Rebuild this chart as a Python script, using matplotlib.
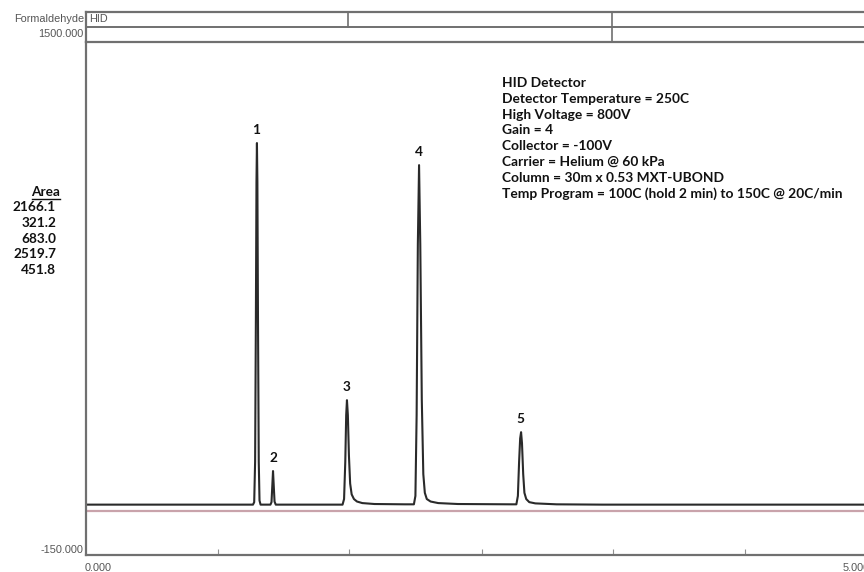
import matplotlib
matplotlib.use("Agg")
import matplotlib.pyplot as plt

# ---------------------------------------------------
# DATA
# ---------------------------------------------------

trace_time = [0.01, 1.100, 1.108, 1.114, 1.119, 1.123, 1.126, 1.129, 1.133, 1.138, 1.143, 1.150,
              1.215, 1.222, 1.227, 1.232, 1.237, 1.242, 1.250,
              1.690, 1.700, 1.708, 1.714, 1.719, 1.725, 1.732, 1.740, 1.750, 1.765, 1.785, 1.820,
              1.900, 2.100,
              2.160, 2.170, 2.178, 2.186, 2.194, 2.202, 2.212, 2.222, 2.232, 2.245, 2.270, 2.320,
              2.450, 2.800,
              2.835, 2.845, 2.853, 2.860, 2.866, 2.872, 2.880, 2.888, 2.900, 2.920, 2.960, 3.100,
              3.400, 5.200]
trace_signal = [12, 12, 20, 150, 600, 1050, 1175, 1050, 600, 150, 25, 12,
                12, 20, 70, 120, 70, 22, 12,
                12, 30, 150, 300, 348, 300, 170, 80, 45, 30, 22, 17,
                14, 13,
                13, 40, 300, 850, 1104, 850, 350, 110, 50, 30, 22, 17,
                14, 13,
                13, 40, 150, 225, 245, 210, 110, 50, 30, 20, 16, 13,
                12, 12]

ref_time = [0.0, 5.2]
ref_signal = [-8, -8]

peak_ids = ["1", "2", "3", "4", "5"]
peak_times = [1.120, 1.232, 1.719, 2.190, 2.860]
peak_tops = [1175, 120, 348, 1104, 245]

areas = ["2166.1", "321.2", "683.0", "2519.7", "451.8"]

tick_times = [0.87, 1.73, 2.61, 3.47, 4.34]

method_lines = [
    "HID Detector",
    "Detector Temperature = 250C",
    "High Voltage = 800V",
    "Gain = 4",
    "Collector = -100V",
    "Carrier = Helium @ 60 kPa",
    "Column = 30m x 0.53 MXT-UBOND",
    "Temp Program = 100C (hold 2 min) to 150C @ 20C/min",
]

# ---------------------------------------------------
# FIGURE
# ---------------------------------------------------

W, H = 864, 572
fig = plt.figure(figsize=(W / 100, H / 100), dpi=100)

def fx(px):
    return px / W

def fy(py):
    return 1 - py / H

ax = fig.add_axes([fx(86), fy(555), 1 - fx(86), fy(42) - fy(555)])
ax.plot(trace_time, trace_signal, color="#2a2a2a", lw=1.5)
ax.plot(ref_time, ref_signal, color="#c9a3ab", lw=1.6)
ax.set_xlim(0, 5.125)
ax.set_ylim(-150, 1500)

for s in ["left", "bottom", "top"]:
    ax.spines[s].set_color("#707070")
    ax.spines[s].set_linewidth(1.6)
ax.spines["right"].set_visible(False)
ax.set_yticks([])
ax.set_xticks(tick_times)
ax.set_xticklabels([])
ax.tick_params(axis="x", direction="in", length=4, color="#909090")

txt_font = dict(family="Lato", weight="bold", color="#111111")

# peak numbers
for pid, t, top in zip(peak_ids, peak_times, peak_tops):
    ax.annotate(pid, (t, top), xytext=(0, 5), textcoords="offset points",
                ha="center", va="bottom", fontsize=9.8, **txt_font)

# method block
for i, line in enumerate(method_lines):
    fig.text(fx(502), fy(83 + i * 15.8), line, ha="left", va="center",
             fontsize=9.9, **txt_font)

# area column
fig.text(fx(60), fy(192), "Area", ha="right", va="center", fontsize=9.8, **txt_font)
fig.add_artist(plt.Line2D([fx(32), fx(60)], [fy(198.5), fy(198.5)], color="#111111", lw=1))
for i, a in enumerate(areas):
    fig.text(fx(56), fy(207 + i * 15.8), a, ha="right", va="center",
             fontsize=9.8, **txt_font)

# axis labels (small gray instrument text)
small = dict(fontsize=7.8, color="#555555", family=["Liberation Sans Narrow", "Liberation Sans"])
fig.text(fx(83), fy(550), "-150.000", ha="right", va="center", **small)
fig.text(fx(83), fy(34), "1500.000", ha="right", va="center", **small)
fig.text(fx(84), fy(19), "Formaldehyde", ha="right", va="center", **small)
fig.text(fx(85), fy(568), "0.000", ha="left", va="center", **small)
fig.text(fx(843), fy(568), "5.000", ha="left", va="center", **small)

# header boxes
hdr = fig.add_axes([fx(86), fy(42), 1 - fx(86), fy(12) - fy(42)])
hdr.set_xlim(0, 1)
hdr.set_ylim(0, 1)
hdr.axis("off")
lc = "#707070"
hdr.plot([0, 1], [1, 1], color=lc, lw=1.6, clip_on=False)
hdr.plot([0, 1], [0.5, 0.5], color=lc, lw=1.4, clip_on=False)
hdr.plot([0, 0], [0, 1], color=lc, lw=1.6, clip_on=False)
hdr.plot([0.337, 0.337], [0.5, 1], color=lc, lw=1.2, clip_on=False)
hdr.plot([0.676, 0.676], [0, 1], color=lc, lw=1.2, clip_on=False)
hdr.text(0.004, 0.75, "HID", ha="left", va="center", **small)

fig.savefig("out.png", dpi=100)
